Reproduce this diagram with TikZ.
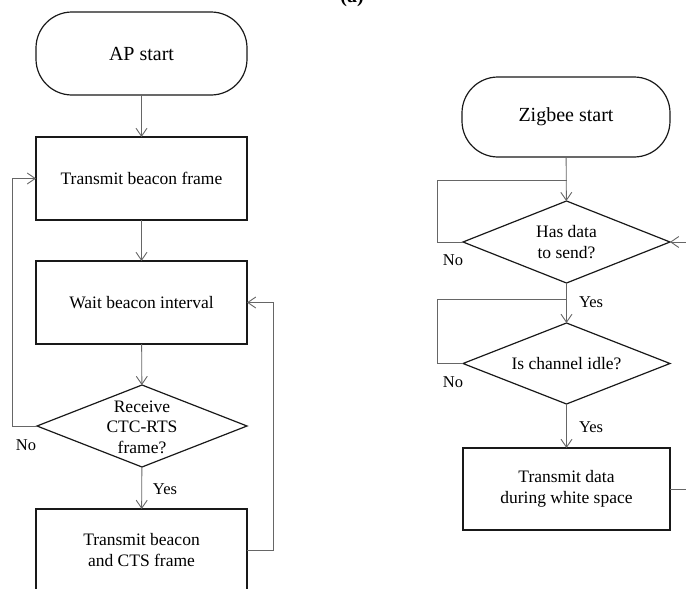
\documentclass[tikz,border=0pt]{standalone}
\usepackage{fontspec}
\setmainfont{Liberation Serif}
\usetikzlibrary{arrows.meta,shapes.geometric}
\begin{document}
\begin{tikzpicture}[x=1pt,y=-1pt,
  box/.style={draw=black!90,line width=1.2pt,rectangle,minimum width=211pt,minimum height=83pt,inner sep=0pt,outer sep=0pt,align=center,font=\fontsize{17.5}{21}\selectfont},
  term/.style={box,rounded corners=36pt,font=\fontsize{20}{24}\selectfont},
  dia/.style={draw=black!90,line width=1.2pt,diamond,minimum width=210pt,minimum height=82pt,inner sep=0pt,outer sep=0pt},
  diatext/.style={align=center,inner sep=0pt,font=\fontsize{17.5}{20.5}\selectfont},
  lbl/.style={inner sep=0pt,font=\fontsize{16.5}{19}\selectfont},
  conn/.style={draw=black!60,line width=0.9pt},
  arr/.style={conn,-{Straight Barb[length=8pt,width=11pt,line width=0.9pt]}}]
\useasboundingbox (0,0) rectangle (686,589);
% title (cut off)
\node[anchor=base,inner sep=0pt,font=\bfseries\fontsize{20}{24}\selectfont] (title) at (352,2) {(a)};
% left chart
\node[term] (ap) at (141.5,53.5) {AP start};
\node[box] (tb) at (141.5,178.5) {Transmit beacon frame};
\node[box] (wb) at (141.5,302.5) {Wait beacon interval};
\node[dia] (d1) at (142,426) {};
\node[diatext] (d1t) at (142,427) {Receive\\CTC-RTS\\frame?};
\node[box] (cts) at (141.5,550.5) {Transmit beacon\\and CTS frame};
\draw[arr] (ap) -- (tb);
\draw[arr] (tb) -- (wb);
\draw[arr] (wb) -- (d1);
\draw[arr] (d1) -- (cts);
\coordinate (l1) at (12,426);
\draw[arr] (d1.west) -- (l1) |- (tb.west);
\coordinate (r1) at (273,550.5);
\draw[arr] (cts.east) -- (r1) |- (wb.east);
\node[lbl] (no1) at (26,445) {No};
\node[lbl] (yes1) at (165,489) {Yes};
% right chart
\node[term,minimum width=208pt,minimum height=80pt] (zs) at (566,117) {Zigbee start};
\node[dia,minimum width=207pt] (d2) at (566.5,242) {};
\node[diatext] (d2t) at (566.5,242) {Has data\\to send?};
\node[dia,minimum width=207pt,minimum height=81pt] (d3) at (566.5,363.5) {};
\node[diatext] (d3t) at (566.5,363.5) {Is channel idle?};
\node[box,minimum width=207pt,minimum height=82pt] (td) at (566.5,489) {Transmit data\\during white space};
\draw[arr] (zs) -- (d2);
\draw[arr] (d2) -- (d3);
\draw[arr] (d3) -- (td);
\coordinate (j1) at (566.5,180);
\coordinate (j2) at (566.5,299);
\draw[conn] (d2.west) -- ++(-26,0) |- (j1);
\draw[conn] (d3.west) -- ++(-26,0) |- (j2);
\coordinate (r2) at (700,489);
\draw[arr] (td.east) -- (r2) |- (d2.east);
\node[lbl] (no2) at (453,260) {No};
\node[lbl] (no3) at (453,382) {No};
\node[lbl] (yes2) at (591,302) {Yes};
\node[lbl] (yes3) at (591,427) {Yes};
\end{tikzpicture}
\end{document}
